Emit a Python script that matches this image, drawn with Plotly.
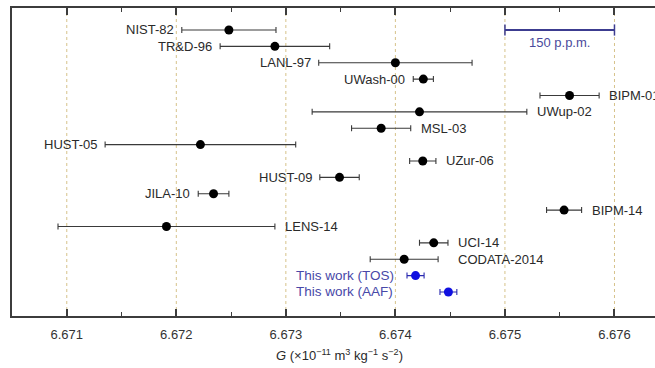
import plotly.graph_objects as go

names = ["NIST-82", "TR&D-96", "LANL-97", "UWash-00", "BIPM-01", "UWup-02", "MSL-03",
         "HUST-05", "UZur-06", "HUST-09", "JILA-10", "BIPM-14", "LENS-14", "UCI-14",
         "CODATA-2014", "This work (TOS)", "This work (AAF)"]
g_values = [6.67248, 6.6729, 6.6740, 6.674255, 6.67559, 6.67422, 6.67387,
            6.67222, 6.67425, 6.67349, 6.67234, 6.67554, 6.67191, 6.67435,
            6.67408, 6.674184, 6.674484]
g_errors = [0.00043, 0.0005, 0.0007, 0.000092, 0.00027, 0.00098, 0.00027,
            0.00087, 0.00012, 0.00018, 0.00014, 0.00016, 0.00099, 0.00013,
            0.00031, 0.000078, 0.000077]
label_side = ["L", "L", "L", "L", "R", "R", "R", "L", "R", "L", "L", "R", "R", "R",
              "R", "W", "W"]
is_this_work = [False] * 15 + [True, True]
tick_vals = [6.671, 6.672, 6.673, 6.674, 6.675, 6.676]
tick_text = ["6.671", "6.672", "6.673", "6.674", "6.675", "6.676"]
minor_tick_vals = [6.6715, 6.6725, 6.6735, 6.6745, 6.6755]
ppm_bar = [6.675, 6.676]
ppm_label = "150 p.p.m."

FONT = "Liberation Sans, Arial, sans-serif"
rows = list(range(len(names)))
X_RANGE = [6.6705, 6.67637]
AX = "#3c3c3c"

fig = go.Figure()

# vertical dotted guide lines
for tv in tick_vals:
    fig.add_vline(x=tv, line=dict(color="#d6c28a", width=1, dash="dot"), layer="below")

black_idx = [i for i in rows if not is_this_work[i]]
blue_idx = [i for i in rows if is_this_work[i]]

fig.add_trace(go.Scatter(
    x=[g_values[i] for i in black_idx], y=[rows[i] for i in black_idx],
    mode="markers",
    marker=dict(color="#000000", size=9),
    error_x=dict(type="data", array=[g_errors[i] for i in black_idx],
                 color="#3a3a3a", thickness=1.1, width=3),
    showlegend=False, hoverinfo="skip"))

fig.add_trace(go.Scatter(
    x=[g_values[i] for i in blue_idx], y=[rows[i] for i in blue_idx],
    mode="markers",
    marker=dict(color="#1010e0", size=9),
    error_x=dict(type="data", array=[g_errors[i] for i in blue_idx],
                 color="#2a2ab0", thickness=1.1, width=3),
    showlegend=False, hoverinfo="skip"))

# 150 p.p.m. scale bar
fig.add_trace(go.Scatter(
    x=ppm_bar, y=[0, 0], mode="lines+markers",
    line=dict(color="#3c3c90", width=2),
    marker=dict(symbol="line-ns", size=8, line=dict(color="#3c3c90", width=1.5)),
    showlegend=False, hoverinfo="skip"))
fig.add_annotation(x=sum(ppm_bar) / 2, y=0, text=ppm_label, showarrow=False,
                   yshift=-13, font=dict(family=FONT, size=13, color="#4a4a9c"))

this_work_label_x = 6.67307
for i in rows:
    v, e, side = g_values[i], g_errors[i], label_side[i]
    if side == "L":
        fig.add_annotation(x=v - e, y=i, text=names[i], showarrow=False,
                           xanchor="right", xshift=-6,
                           font=dict(family=FONT, size=13, color="#2a2a2a"))
    elif side == "R":
        x_anchor = v + e
        shift = 8
        if names[i] == "CODATA-2014":
            x_anchor = g_values[i - 1] + g_errors[i - 1]
        fig.add_annotation(x=x_anchor, y=i, text=names[i], showarrow=False,
                           xanchor="left", xshift=shift,
                           font=dict(family=FONT, size=13, color="#2a2a2a"))
    else:
        fig.add_annotation(x=this_work_label_x, y=i, text=names[i], showarrow=False,
                           xanchor="left",
                           font=dict(family=FONT, size=13.5, color="#4848a8"))

fig.add_annotation(xref="paper", yref="paper", x=0.51, y=0, yshift=-49,
                   text="<i>G</i> (×10<sup>−11</sup> m<sup>3</sup> kg<sup>−1</sup> s<sup>−2</sup>)",
                   showarrow=False, font=dict(family=FONT, size=13, color="#2a2a2a"))

fig.update_layout(
    width=655, height=368,
    margin=dict(l=12, r=0, t=8, b=52),
    paper_bgcolor="white", plot_bgcolor="white",
    xaxis=dict(range=X_RANGE, tickmode="array", tickvals=tick_vals, ticktext=tick_text,
               showgrid=False, zeroline=False,
               showline=True, linecolor=AX, linewidth=2, mirror="ticks",
               ticks="inside", ticklen=7, tickcolor=AX, tickwidth=1.6,
               ticklabelstandoff=5,
               minor=dict(ticks="inside", ticklen=4, tickcolor=AX, tickwidth=1.3,
                          tickvals=minor_tick_vals, showgrid=False),
               tickfont=dict(family=FONT, size=13, color="#333333")),
    yaxis=dict(range=[17.466, -1.343], showticklabels=False, showgrid=False,
               zeroline=False, showline=True, linecolor=AX, linewidth=2,
               ticks=""),
)

fig.write_html("out.html", config={"displayModeBar": False},
               post_script="document.body.style.margin='0';")
